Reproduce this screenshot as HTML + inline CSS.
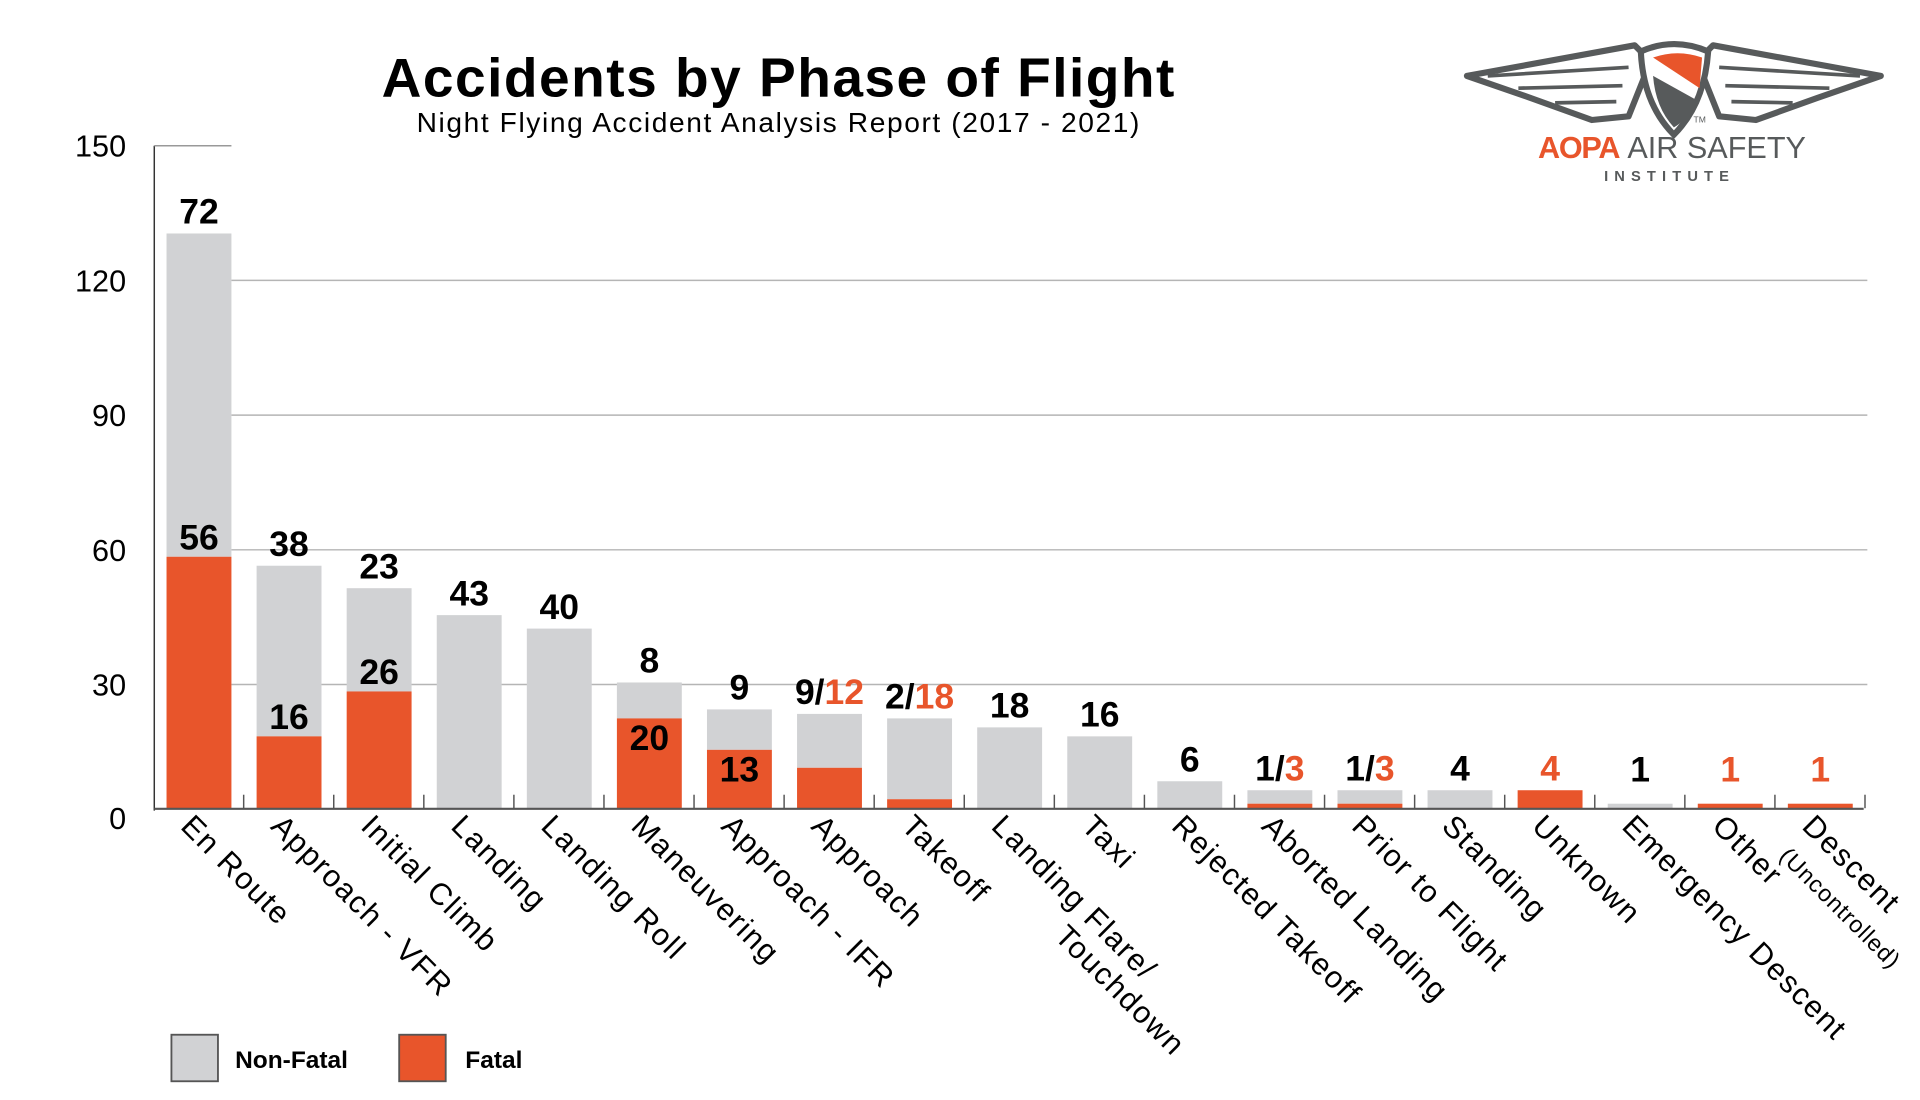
<!DOCTYPE html>
<html><head><meta charset="utf-8"><style>
html,body{margin:0;padding:0;background:#fff;width:1920px;height:1100px;overflow:hidden}
svg{display:block;font-family:"Liberation Sans",sans-serif}
</style></head><body>
<svg id="chart" width="1920" height="1100" viewBox="0 0 1568 898.3" preserveAspectRatio="none" xmlns="http://www.w3.org/2000/svg">
<rect width="1568" height="898.3" fill="#fff"/>
<text x="636" y="79" text-anchor="middle" font-size="45" font-weight="bold" letter-spacing="1.2" fill="#000">Accidents by Phase of Flight</text>
<text x="636" y="108" text-anchor="middle" font-size="23" letter-spacing="1.3" fill="#000">Night Flying Accident Analysis Report (2017 - 2021)</text>
<g>
  <path d="M1198 62 L1335 37 L1348 50 L1330 95 L1300 98 L1250 80 Z" fill="none" stroke="#575a5b" stroke-width="5" stroke-linejoin="round"/>
  <path d="M1536 62 L1399 37 L1386 50 L1404 95 L1434 98 L1484 80 Z" fill="none" stroke="#575a5b" stroke-width="5" stroke-linejoin="round"/>
  <path d="M1215 62 L1330 55 M1240 72 L1325 70 M1270 84 L1320 83 M1519 62 L1404 55 M1494 72 L1409 70 M1464 84 L1414 83" stroke="#575a5b" stroke-width="3" fill="none"/>
  <path d="M1340 42 Q1367 30 1395 42 Q1392 85 1367 110 Q1342 85 1340 42 Z" fill="#fff" stroke="#575a5b" stroke-width="5"/>
  <path d="M1350 47 Q1370 40 1390 47 L1388 72 Z" fill="#e8552b"/>
  <path d="M1350 62 L1386 82 Q1378 98 1367 104 Q1352 88 1350 62 Z" fill="#575a5b"/>
  <text x="1383" y="100" font-size="7" fill="#575a5b">TM</text>
  <text x="1256" y="129" font-size="25" fill="#e8552b" font-weight="bold" letter-spacing="-1">AOPA</text>
  <text x="1329" y="129" font-size="25" fill="#575a5b">AIR SAFETY</text>
  <text x="1310" y="148" font-size="12" fill="#575a5b" font-weight="bold" letter-spacing="5">INSTITUTE</text>
</g>
<g id="grid"></g><g id="bars"></g><g id="axes"></g><g id="labels"></g>
<g>
  <rect x="140" y="845" width="38" height="38" fill="#d1d2d4" stroke="#555" stroke-width="1.5"/>
  <text x="192" y="872" font-size="20" font-weight="bold">Non-Fatal</text>
  <rect x="326" y="845" width="38" height="38" fill="#e8552b" stroke="#555" stroke-width="1.5"/>
  <text x="380" y="872" font-size="20" font-weight="bold">Fatal</text>
</g>
</svg>
<script>
const categories = ["En Route","Approach - VFR","Initial Climb","Landing","Landing Roll","Maneuvering","Approach - IFR","Approach","Takeoff","Landing Flare/|Touchdown","Taxi","Rejected Takeoff","Aborted Landing","Prior to Flight","Standing","Unknown","Emergency Descent","Other","Descent|(Uncontrolled)"];
const nonFatal = [72,38,23,43,40,8,9,12,18,18,16,6,3,3,4,0,1,0,0];
const fatal    = [56,16,26,0,0,20,13,9,2,0,0,0,1,1,0,4,0,1,1];
const labelStyle = ["stack","stack","stack","single","single","inside","inside","slash","slash","single","single","single","slash","slash","single","single","single","single","single"];
const yTicks = [0,30,60,90,120,150];
const tickLabelY = [668,559,449,339,229,119];

const NS="http://www.w3.org/2000/svg";
const ORANGE="#e8552b", GRAY="#d1d2d4";
const x0=136, step=73.56, bw=53, base=660, perUnit=110/30;
const xPos = i => x0 + i*step;
const yPos = v => base - v*perUnit;
function mk(tag, attrs, parent){const e=document.createElementNS(NS,tag);for(const k in attrs)e.setAttribute(k,attrs[k]);parent.appendChild(e);return e;}
const grid=document.getElementById('grid'), bars=document.getElementById('bars'), axes=document.getElementById('axes'), labels=document.getElementById('labels');

yTicks.forEach((t,i)=>{
  const y=tickLabelY[i];
  if(t>0 && t<150){
    const g=mk('line',{x1:189,x2:1525,y1:y,y2:y,stroke:'#b5b5b5','stroke-width':1.2},grid);
    
    
  }
  const tl=mk('text',{x:103,y:y+9,'text-anchor':'end','font-size':25,fill:'#000'},axes);
  tl.textContent=t;
  
  
});
const yl=mk('line',{x1:126,x2:126,y1:119,y2:662,stroke:'#333','stroke-width':1.2},axes);


const tl=mk('line',{x1:126,x2:189,y1:119,y2:119,stroke:'#999','stroke-width':1.2},axes);


const xl=mk('line',{x1:126,x2:1522,y1:660.5,y2:660.5,stroke:'#555','stroke-width':1.8},axes);



categories.forEach((c,i)=>{
  const x=xPos(i), f=fatal[i], n=nonFatal[i], tot=f+n;
  const rn=mk('rect',{x:x,y:yPos(tot),width:bw,height:n*perUnit,fill:GRAY},bars);
  
  
  const rf=mk('rect',{x:x,y:yPos(f),width:bw,height:f*perUnit,fill:ORANGE},bars);
  
  
  const tk=mk('line',{x1:x+bw+10,x2:x+bw+10,y1:649,y2:660,stroke:'#555','stroke-width':1.2},axes);
  
  
  const cx=x+bw/2, st=labelStyle[i];
  const fs=29;
  if(st==="stack"||st==="inside"){
    const a=mk('text',{x:cx,y:yPos(tot)-8,'text-anchor':'middle','font-size':fs,'font-weight':'bold',fill:'#000'},labels);
    a.textContent=n;
    
    
    const yb = st==="stack" ? yPos(f)-6 : yPos(f)+26;
    const b=mk('text',{x:cx,y:yb,'text-anchor':'middle','font-size':fs,'font-weight':'bold',fill:'#000'},labels);
    b.textContent=f;
    
    
  } else if(st==="slash"){
    const a=mk('text',{x:cx,y:yPos(tot)-8,'text-anchor':'middle','font-size':fs,'font-weight':'bold',fill:'#000'},labels);
    
    
    const s1=mk('tspan',{},a); s1.textContent=f+"/";
    const s2=mk('tspan',{fill:ORANGE},a); s2.textContent=n;
  } else {
    const v = n>0 ? n : f;
    const a=mk('text',{x:cx,y:yPos(tot)-8-(tot<2?10:0),'text-anchor':'middle','font-size':fs,'font-weight':'bold',fill:n>0?'#000':ORANGE},labels);
    a.textContent=v;
    
    
  }
  const parts=c.split('|');
  const lx=cx-16, ly=676;
  const g=mk('g',{transform:`translate(${lx},${ly}) rotate(45)`},labels);
  
  
  const t1=mk('text',{x:0,y:0,'font-size':25,'letter-spacing':1.3,fill:'#000'},g);
  t1.textContent=parts[0];
  if(parts[1]){
    const small = parts[1].startsWith('(');
    const t2=mk('text',{x:small?4:100,y:small?30:27,'font-size':small?19:25,'letter-spacing':small?0.8:1.3,fill:'#000'},g);
    t2.textContent=parts[1];
  }
});
</script>
</body></html>
